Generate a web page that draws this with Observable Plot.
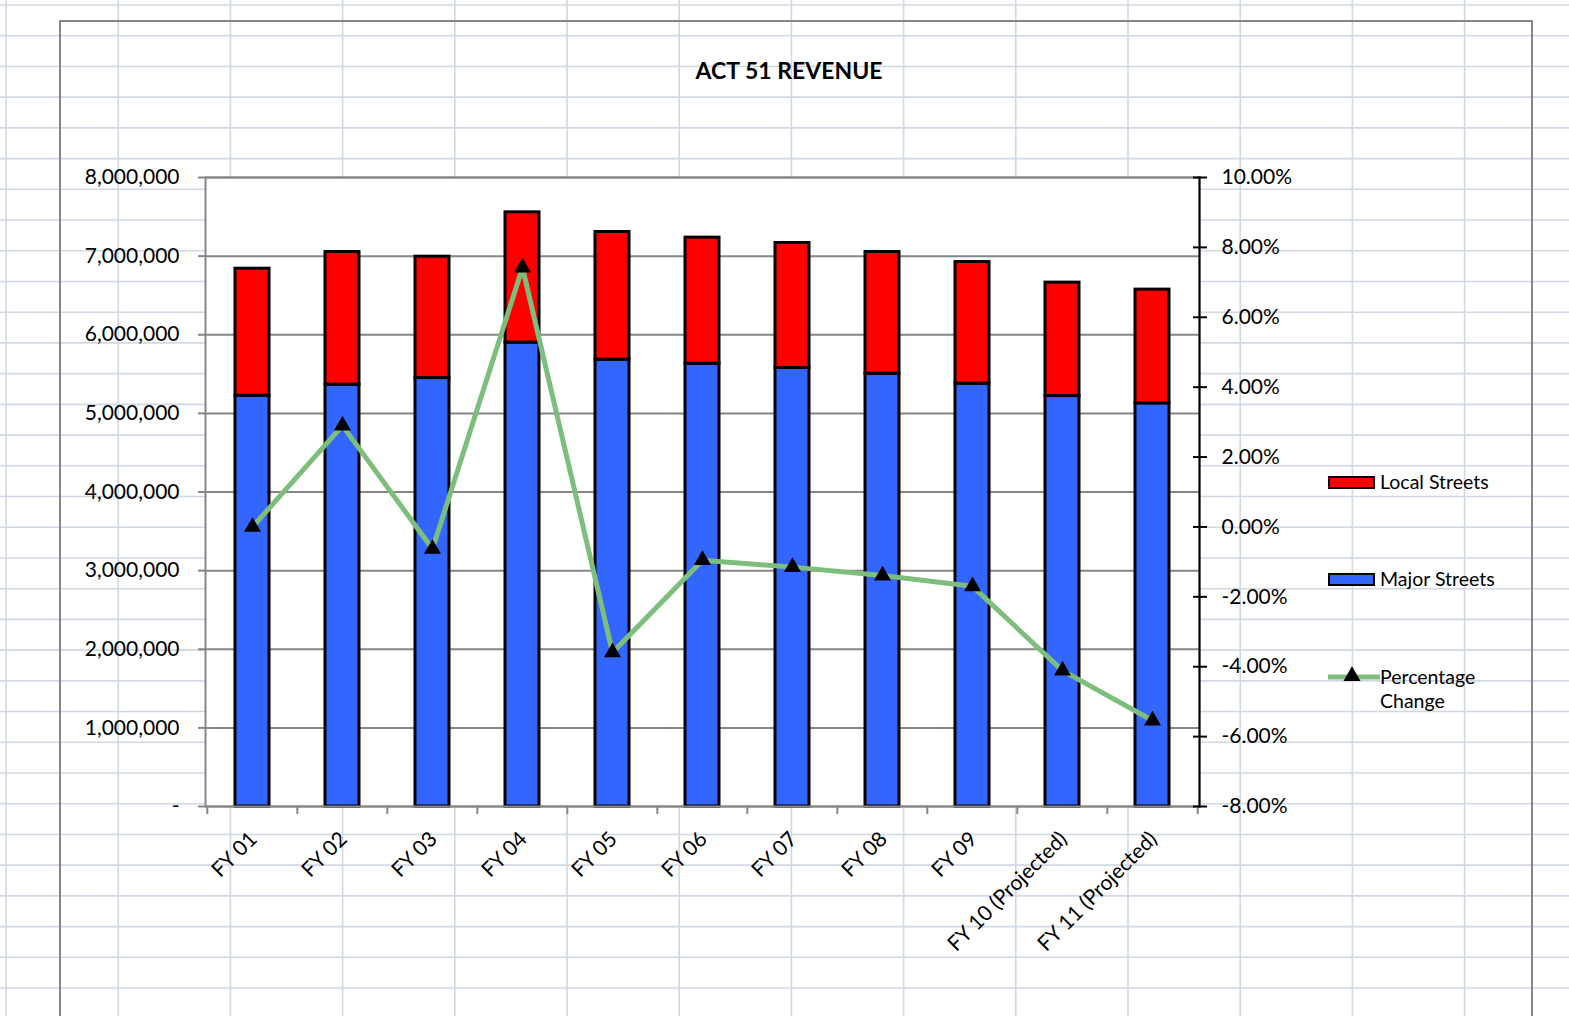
<!DOCTYPE html>
<html><head><meta charset="utf-8">
<script src="https://cdn.jsdelivr.net/npm/d3@7"></script>
<script src="https://cdn.jsdelivr.net/npm/@observablehq/plot@0.6"></script>
<style>
html,body{margin:0;padding:0;background:#fff;}
body{width:1569px;height:1016px;position:relative;overflow:hidden;font-family:Lato,"Noto Sans",sans-serif;}
#sheet{position:absolute;left:0;top:0;}
#chartBorder{position:absolute;left:59px;top:20px;width:1470px;height:1100px;border:2px solid #868686;}
#chart{position:absolute;left:0;top:0;}
#title{position:absolute;left:589px;width:400px;top:55px;text-align:center;font-weight:700;font-size:23px;line-height:30px;color:#000;}
.leg{position:absolute;font-size:19.5px;color:#000;line-height:24px;white-space:nowrap;}
.sw{position:absolute;box-sizing:border-box;border:2.5px solid #000;width:47px;height:13px;}
</style></head><body>
<svg id="sheet" width="1569" height="1016"></svg>
<div id="chartBorder"></div>
<div id="chart"></div>
<div id="title">ACT 51 REVENUE</div>
<div id="legend"></div>
<script>
// ---- data ----
const categories = ["FY 01","FY 02","FY 03","FY 04","FY 05","FY 06","FY 07","FY 08","FY 09","FY 10 (Projected)","FY 11 (Projected)"];
const majorStreets = [5225000, 5365000, 5449000, 5900000, 5683000, 5632000, 5577000, 5505000, 5378000, 5220000, 5127000];
const localStreets = [1615000, 1687000, 1544000, 1657000, 1624000, 1603000, 1590000, 1547000, 1547000, 1443000, 1447000];
const pctChange = [0.00, 2.90, -0.63, 7.42, -3.59, -0.95, -1.15, -1.39, -1.70, -4.11, -5.54];
const revenueTicks = [0, 1000000, 2000000, 3000000, 4000000, 5000000, 6000000, 7000000, 8000000];
const pctTicks = [-8, -6, -4, -2, 0, 2, 4, 6, 8, 10];
const seriesNames = ["Local Streets", "Major Streets", "Percentage Change"];
const seriesColors = ["#ff0000", "#3366ff", "#7dbe7d"];

// ---- spreadsheet background (decoration) ----
const sheet = d3.select("#sheet");
for (let x = 6; x < 1569; x += 112.2) sheet.append("line").attr("x1", x).attr("x2", x).attr("y1", 0).attr("y2", 1016).attr("stroke", "#d0d7e5").attr("stroke-width", 1.6);
for (let y = 5; y < 1016; y += 30.72) sheet.append("line").attr("x1", 0).attr("x2", 1569).attr("y1", y).attr("y2", y).attr("stroke", "#d0d7e5").attr("stroke-width", 1.6);

// ---- chart ----
const W = 1569, H = 1016, mL = 205, mR = 370, mT = 177, mB = 210;
const frameW = W - mL - mR, frameH = H - mT - mB;
const step = frameW / categories.length;
const pctToValue = d3.scaleLinear().domain([-8, 10]).range([0, 8000000]);

const barRows = [];
categories.forEach((c, i) => {
  barRows.push({cat: c, series: "Major Streets", value: majorStreets[i]});
  barRows.push({cat: c, series: "Local Streets", value: localStreets[i]});
});
const pctRows = categories.map((c, i) => ({cat: c, pct: pctChange[i]}));

const fmtPct = v => { const p = Math.round(pctToValue.invert(v) * 100) / 100; return (p === 0 ? 0 : p).toFixed(2) + "%"; };

const plot = Plot.plot({
  width: W, height: H,
  marginLeft: mL, marginRight: mR, marginTop: mT, marginBottom: mB,
  style: {background: "transparent", fontFamily: "Lato, 'Noto Sans', sans-serif", fontSize: "21px", color: "black", overflow: "visible"},
  x: {domain: categories, paddingInner: 0.62, paddingOuter: 0.31},
  y: {domain: [0, 8000000]},
  color: {domain: seriesNames.slice(0, 2), range: seriesColors.slice(0, 2)},
  marks: [
    Plot.frame({fill: "white"}),
    Plot.gridY(revenueTicks, {stroke: "#868686", strokeOpacity: 1, strokeWidth: 2}),
    Plot.barY(barRows, Plot.stackY({x: "cat", y: "value", fill: "series", order: ["Major Streets", "Local Streets"], stroke: "black", strokeWidth: 3})),
    Plot.frame({stroke: "#868686", strokeWidth: 2}),
    Plot.ruleX(categories, {x: d => d, dx: -step / 2, insetTop: frameH, insetBottom: -8, stroke: "#868686", strokeWidth: 2}),
    Plot.ruleX(categories.slice(-1), {x: d => d, dx: step / 2, insetTop: frameH, insetBottom: -8, stroke: "#868686", strokeWidth: 2}),
    Plot.axisY(revenueTicks, {anchor: "left", label: null, tickSize: 7, tickPadding: 19, stroke: "#868686", strokeWidth: 2, fill: "black", fontSize: 21,
      tickFormat: d => d === 0 ? "-" : d3.format(",")(d)}),
    Plot.frame({anchor: "right", stroke: "black", strokeWidth: 2}),
    Plot.axisY(pctTicks.map(p => pctToValue(p)), {anchor: "right", label: null, tickSize: 14, dx: -7, tickPadding: 15, stroke: "black", strokeWidth: 2, fill: "black", fontSize: 21, tickFormat: fmtPct}),
    Plot.axisX({label: null, tickRotate: -45, tickSize: 0, tickPadding: 29, dx: 1, fill: "black", fontSize: 21}),
    Plot.lineY(pctRows, {x: "cat", y: d => pctToValue(d.pct), stroke: seriesColors[2], strokeWidth: 5}),
    Plot.dot(pctRows, {x: "cat", y: d => pctToValue(d.pct), symbol: "triangle", r: 6.3, fill: "black"})
  ]
});
document.getElementById("chart").appendChild(plot);

// ---- legend ----
const legend = d3.select("#legend");
const legRows = [
  {name: seriesNames[0], color: seriesColors[0], type: "box", cy: 482},
  {name: seriesNames[1], color: seriesColors[1], type: "box", cy: 579},
  {name: seriesNames[2], color: seriesColors[2], type: "line", cy: 677}
];
legRows.forEach(r => {
  if (r.type === "box") {
    legend.append("div").attr("class", "sw").style("left", "1328px").style("top", (r.cy - 6.5) + "px").style("background", r.color);
    legend.append("div").attr("class", "leg").style("left", "1380px").style("top", (r.cy - 12) + "px").text(r.name);
  } else {
    const s = legend.append("svg").style("position", "absolute").style("left", "1324px").style("top", (r.cy - 12) + "px").attr("width", 60).attr("height", 24);
    s.append("line").attr("x1", 4).attr("x2", 56).attr("y1", 12).attr("y2", 12).attr("stroke", r.color).attr("stroke-width", 5);
    s.append("path").attr("transform", "translate(28,11)").attr("d", d3.symbol(d3.symbolTriangle, Math.PI * 6.3 * 6.3)()).attr("fill", "black");
    const words = r.name.split(" ");
    legend.append("div").attr("class", "leg").style("left", "1380px").style("top", (r.cy - 12) + "px").html(words[0] + "<br>" + words[1]);
  }
});
</script>
</body></html>
